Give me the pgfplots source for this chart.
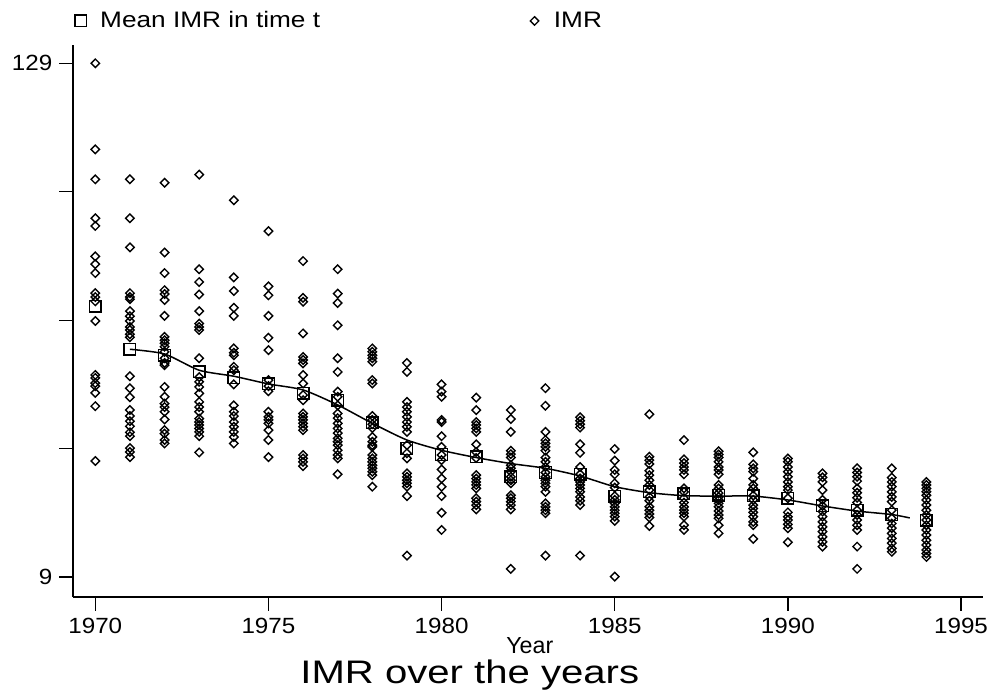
\documentclass[border=0pt]{standalone}
\usepackage{pgfplots}
\pgfplotsset{compat=1.18}
\usepackage{graphicx}
\usepackage{fontspec}
\setmainfont{Liberation Sans}
\newcommand{\st}[1]{\scalebox{1.1}[1]{#1}}
\newcommand{\lgd}[1]{\scalebox{1.17}[1]{#1}}
\begin{document}
\begin{tikzpicture}
\begin{axis}[
  name=ax,
  scale only axis,
  width=455pt, height=276pt,
  xmin=1969.356, xmax=1995.635,
  ymin=4.33, ymax=133.27,
  axis lines*=left,
  axis line style={-, line width=0.9pt},
  tick align=outside,
  major tick length=6.8pt,
  tick style={black, line width=0.65pt},
  xtick={1970,1975,1980,1985,1990,1995},
  xticklabels={\st{1970},\st{1975},\st{1980},\st{1985},\st{1990},\st{1995}},
  ytick={9,39,69,99,129},
  yticklabels={\st{9},{},{},{},\st{129}},
  ticklabel style={font=\fontsize{11}{13}\selectfont},
  xlabel={Year},
  xlabel style={at={(axis description cs:0.502,0)}, anchor=base, yshift=-28.2pt, font=\fontsize{11.6}{13}\selectfont},
  title={\scalebox{1.23}[1]{IMR over the years}},
  title style={at={(axis description cs:0.436,0)}, anchor=base, yshift=-49pt, font=\fontsize{16.3}{18}\selectfont},
  legend columns=2,
  legend style={at={(axis description cs:0.0011,1.0435)}, anchor=west, draw=none, fill=none, inner sep=0pt,
    font=\fontsize{11.2}{13}\selectfont,
    /tikz/every even column/.append style={column sep=102pt}},
  legend image code/.code={\path (-3pt,0pt) (7.5pt,0pt); \draw[#1] plot coordinates {(0pt,0pt)};},
  clip=false,
]
% mean IMR in time t
\addplot[only marks, mark=square, mark size=2.9pt, mark options={line width=0.7pt, black}] coordinates {
(1970,72.3) (1971,62.2) (1972,60.8) (1973,56.9) (1974,55.5) (1975,54.1) (1976,51.9) (1977,50.3)
(1978,45.0) (1979,39.0) (1980,37.6) (1981,37.1) (1982,32.4) (1983,33.4) (1984,33.0) (1985,27.9)
(1986,28.9) (1987,28.4) (1988,28.1) (1989,28.0) (1990,27.4) (1991,25.6) (1992,24.6) (1993,23.6) (1994,22.3)
};
\addlegendentry{\lgd{Mean IMR in time t}}
% IMR
\addplot[only marks, mark=square, mark size=1.5pt, mark options={rotate=45, line width=0.7pt, black}] coordinates {
(1970,129.0) (1970,108.9) (1970,101.9) (1970,92.8) (1970,91.0) (1970,83.9) (1970,82.1) (1970,80.0) (1970,75.3) (1970,74.4) (1970,73.4) (1970,68.8) (1970,56.2) (1970,55.5) (1970,54.3) (1970,53.6) (1970,52.0) (1970,48.9) (1970,36.1)
(1971,101.9) (1971,92.8) (1971,86.0) (1971,75.3) (1971,74.4) (1971,73.9) (1971,71.1) (1971,69.9) (1971,68.8) (1971,67.4) (1971,66.7) (1971,65.7) (1971,65.0) (1971,55.9) (1971,53.1) (1971,51.0) (1971,48.0) (1971,46.6) (1971,45.4) (1971,44.2) (1971,42.8) (1971,41.9) (1971,39.1) (1971,38.2) (1971,37.0)
(1972,101.1) (1972,84.8) (1972,80.0) (1972,76.0) (1972,75.1) (1972,73.7) (1972,70.0) (1972,65.1) (1972,64.3) (1972,63.6) (1972,62.8) (1972,61.6) (1972,60.1) (1972,59.0) (1972,58.5) (1972,53.4) (1972,51.1) (1972,49.5) (1972,48.7) (1972,47.6) (1972,45.8) (1972,43.3) (1972,42.5) (1972,41.0) (1972,40.2)
(1973,103.0) (1973,80.9) (1973,77.9) (1973,75.0) (1973,71.1) (1973,68.2) (1973,67.4) (1973,66.7) (1973,60.1) (1973,55.7) (1973,54.6) (1973,53.4) (1973,51.9) (1973,49.9) (1973,48.7) (1973,47.6) (1973,46.0) (1973,45.2) (1973,44.5) (1973,43.7) (1973,42.9) (1973,41.9) (1973,38.1)
(1974,97.0) (1974,79.0) (1974,75.8) (1974,71.9) (1974,70.0) (1974,62.4) (1974,61.4) (1974,60.8) (1974,58.1) (1974,57.3) (1974,54.0) (1974,49.1) (1974,47.6) (1974,46.6) (1974,45.2) (1974,44.1) (1974,42.9) (1974,41.7) (1974,40.2)
(1975,89.8) (1975,76.9) (1975,74.8) (1975,70.0) (1975,64.9) (1975,62.0) (1975,55.0) (1975,53.6) (1975,52.4) (1975,47.6) (1975,46.4) (1975,45.7) (1975,44.9) (1975,43.3) (1975,41.0) (1975,37.0)
(1976,82.8) (1976,74.2) (1976,73.3) (1976,65.9) (1976,60.4) (1976,59.7) (1976,58.9) (1976,56.2) (1976,54.2) (1976,51.5) (1976,50.3) (1976,47.2) (1976,46.4) (1976,45.7) (1976,44.9) (1976,44.1) (1976,43.3) (1976,37.5) (1976,36.7) (1976,35.9) (1976,34.9)
(1977,80.9) (1977,75.2) (1977,73.0) (1977,67.8) (1977,60.1) (1977,56.9) (1977,52.3) (1977,51.1) (1977,49.1) (1977,47.2) (1977,46.1) (1977,44.9) (1977,43.7) (1977,42.6) (1977,41.4) (1977,40.6) (1977,39.8) (1977,38.6) (1977,37.5) (1977,36.7) (1977,33.0)
(1978,62.4) (1978,61.6) (1978,60.8) (1978,60.1) (1978,59.3) (1978,55.0) (1978,54.2) (1978,46.6) (1978,45.7) (1978,44.7) (1978,43.8) (1978,41.7) (1978,40.6) (1978,39.8) (1978,39.4) (1978,37.5) (1978,36.7) (1978,35.9) (1978,35.1) (1978,34.4) (1978,33.6) (1978,32.8) (1978,30.1)
(1979,59.0) (1979,56.9) (1979,49.9) (1979,48.7) (1979,47.6) (1979,46.4) (1979,45.2) (1979,44.1) (1979,42.9) (1979,39.8) (1979,37.9) (1979,36.7) (1979,33.2) (1979,32.4) (1979,31.6) (1979,30.9) (1979,30.1) (1979,27.9) (1979,14.0)
(1980,54.0) (1980,52.3) (1980,51.1) (1980,45.7) (1980,45.2) (1980,41.9) (1980,39.4) (1980,37.5) (1980,36.3) (1980,34.1) (1980,32.0) (1980,30.1) (1980,27.9) (1980,24.0) (1980,20.0)
(1981,50.9) (1981,48.0) (1981,45.2) (1981,44.5) (1981,43.7) (1981,42.9) (1981,40.0) (1981,38.2) (1981,36.8) (1981,32.8) (1981,32.0) (1981,31.2) (1981,30.5) (1981,29.7) (1981,27.4) (1981,26.6) (1981,25.8) (1981,24.8)
(1982,48.0) (1982,45.9) (1982,42.9) (1982,38.5) (1982,37.7) (1982,36.9) (1982,35.1) (1982,34.4) (1982,33.6) (1982,32.4) (1982,31.6) (1982,30.9) (1982,28.1) (1982,27.4) (1982,26.6) (1982,25.8) (1982,24.8) (1982,10.9)
(1983,53.1) (1983,49.0) (1983,42.9) (1983,41.0) (1983,40.2) (1983,39.4) (1983,38.5) (1983,36.9) (1983,35.9) (1983,34.7) (1983,33.4) (1983,32.4) (1983,31.6) (1983,30.9) (1983,30.1) (1983,28.9) (1983,26.2) (1983,25.4) (1983,24.6) (1983,23.9) (1983,14.0)
(1984,46.3) (1984,45.5) (1984,44.7) (1984,43.9) (1984,40.0) (1984,38.0) (1984,34.7) (1984,33.0) (1984,32.0) (1984,31.2) (1984,30.5) (1984,29.7) (1984,28.9) (1984,27.7) (1984,26.8) (1984,25.8) (1984,14.0)
(1985,38.9) (1985,36.2) (1985,34.0) (1985,33.0) (1985,30.9) (1985,29.9) (1985,27.9) (1985,27.0) (1985,26.2) (1985,25.4) (1985,24.6) (1985,23.9) (1985,23.1) (1985,22.1) (1985,9.1)
(1986,47.0) (1986,37.1) (1986,36.3) (1986,35.4) (1986,33.8) (1986,32.8) (1986,31.6) (1986,30.5) (1986,29.3) (1986,27.7) (1986,26.8) (1986,25.4) (1986,24.6) (1986,23.7) (1986,22.9) (1986,20.9)
(1987,41.0) (1987,36.5) (1987,35.6) (1987,34.7) (1987,34.0) (1987,33.0) (1987,29.7) (1987,28.9) (1987,27.4) (1987,26.4) (1987,25.4) (1987,24.6) (1987,23.9) (1987,23.1) (1987,21.1) (1987,20.0)
(1988,38.4) (1988,37.6) (1988,36.9) (1988,35.9) (1988,34.7) (1988,34.0) (1988,33.0) (1988,30.5) (1988,29.7) (1988,28.6) (1988,27.7) (1988,27.0) (1988,26.2) (1988,25.4) (1988,24.4) (1988,23.5) (1988,22.7) (1988,21.1) (1988,19.2)
(1989,38.1) (1989,35.3) (1989,34.4) (1989,33.6) (1989,32.0) (1989,30.5) (1989,29.7) (1989,28.0) (1989,27.0) (1989,25.8) (1989,25.0) (1989,24.1) (1989,23.1) (1989,21.9) (1989,21.1) (1989,17.9)
(1990,36.7) (1990,35.9) (1990,34.7) (1990,33.6) (1990,32.4) (1990,31.2) (1990,30.1) (1990,29.3) (1990,27.4) (1990,24.1) (1990,23.1) (1990,22.3) (1990,21.3) (1990,20.4) (1990,17.1)
(1991,33.2) (1991,32.3) (1991,31.2) (1991,29.3) (1991,27.0) (1991,25.6) (1991,24.3) (1991,23.1) (1991,21.9) (1991,20.7) (1991,19.6) (1991,18.4) (1991,17.2) (1991,16.1)
(1992,34.4) (1992,33.4) (1992,32.4) (1992,31.4) (1992,29.7) (1992,28.7) (1992,27.5) (1992,26.4) (1992,24.6) (1992,23.5) (1992,22.3) (1992,21.1) (1992,20.0) (1992,16.1) (1992,10.9)
(1993,34.4) (1993,32.2) (1993,31.2) (1993,30.1) (1993,28.9) (1993,27.7) (1993,26.6) (1993,24.6) (1993,22.7) (1993,21.5) (1993,20.4) (1993,19.2) (1993,18.0) (1993,16.9) (1993,15.7) (1993,14.9)
(1994,31.2) (1994,30.5) (1994,29.7) (1994,28.9) (1994,28.1) (1994,27.0) (1994,25.8) (1994,24.6) (1994,23.5) (1994,22.3) (1994,21.1) (1994,20.0) (1994,18.8) (1994,17.6) (1994,16.5) (1994,15.3) (1994,14.5) (1994,13.7)
};
\addlegendentry{\lgd{IMR}}
% smoothed line
\addplot[forget plot, black, line width=0.75pt, smooth, tension=0.4, mark=none] coordinates {
(1971,62.2) (1972,61.1) (1973,57.3) (1974,55.9) (1975,54.1) (1976,52.7) (1977,49.2) (1978,44.9)
(1979,41.0) (1980,38.6) (1981,36.9) (1982,35.5) (1983,34.4) (1984,32.6) (1985,30.1) (1986,28.7)
(1987,28.0) (1988,27.9) (1989,27.9) (1990,27.0) (1991,25.6) (1992,24.4) (1993,23.6) (1993.52,22.8)
};
\end{axis}
\pgfresetboundingbox
\path[use as bounding box] ([shift={(-36.5pt,-50.5pt)}]ax.south west) rectangle ([shift={(458.5pt,298.5pt)}]ax.south west);
\end{tikzpicture}
\end{document}
